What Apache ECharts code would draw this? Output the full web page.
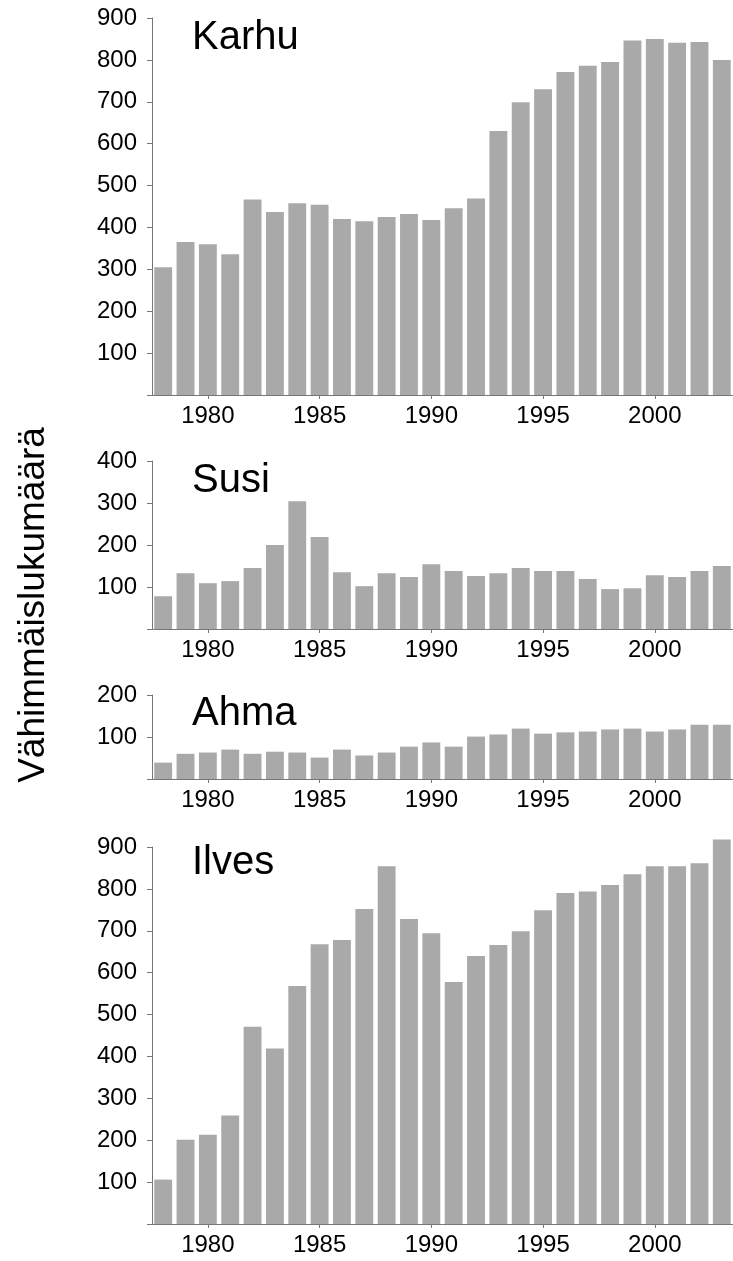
<!DOCTYPE html>
<html>
<head>
<meta charset="utf-8">
<script src="https://cdn.jsdelivr.net/npm/echarts@6/dist/echarts.min.js"></script>
<style>
html,body{margin:0;padding:0;background:#fff;}
#chart{width:733px;height:1261px;}
</style>
</head>
<body>
<div id="chart"></div>
<script>
const years = ['1978','1979','1980','1981','1982','1983','1984','1985','1986','1987','1988','1989','1990','1991','1992','1993','1994','1995','1996','1997','1998','1999','2000','2001','2002','2003'];
const karhu = [305,365,360,336,467,437,458,454,420,415,425,432,418,446,469,630,699,730,771,786,795,846,850,841,843,800];
const susi  = [78,133,109,114,145,200,304,219,135,102,133,124,154,138,126,133,145,138,138,119,95,97,128,124,138,150];
const ahma  = [39,60,63,70,60,65,63,51,70,56,63,77,87,77,101,106,120,108,111,113,118,120,113,118,129,129];
const ilves = [106,201,213,259,471,419,568,668,678,752,854,728,694,578,640,666,699,749,790,794,809,835,854,854,861,918];
const panelNames = ['Karhu','Susi','Ahma','Ilves'];
const panelData = [karhu, susi, ahma, ilves];
const panelMax = [900, 400, 200, 900];
const yTitle = 'Vähimmäislukumäärä';

const FONT = 'Liberation Sans, Arial, Helvetica, sans-serif';
const grids = [
  {top: 18, height: 377},
  {top: 461, height: 168},
  {top: 695, height: 84},
  {top: 847, height: 377}
];
const titleY = [38, 481, 714, 863];

const chart = echarts.init(document.getElementById('chart'), null, {renderer: 'canvas'});
const axisColor = '#777777';

const option = {
  animation: false,
  backgroundColor: '#fff',
  grid: grids.map(g => ({left: 152, right: 0, top: g.top, height: g.height, containLabel: false})),
  xAxis: grids.map((g, i) => ({
    type: 'category',
    gridIndex: i,
    data: years,
    boundaryGap: true,
    axisLine: {show: true, lineStyle: {color: axisColor, width: 1}},
    axisTick: {show: true, alignWithLabel: true, length: 4, interval: (idx, v) => Number(v) % 5 === 0, lineStyle: {color: axisColor}},
    axisLabel: {show: true, interval: (idx, v) => Number(v) % 5 === 0, color: '#000', fontSize: 24, fontFamily: FONT, margin: 9},
    splitLine: {show: false}
  })),
  yAxis: grids.map((g, i) => ({
    type: 'value',
    gridIndex: i,
    min: 0,
    max: panelMax[i],
    interval: 100,
    axisLine: {show: true, lineStyle: {color: axisColor, width: 1}},
    axisTick: {show: true, length: 5, lineStyle: {color: axisColor}},
    axisLabel: {color: '#000', fontSize: 24, fontFamily: FONT, margin: 15, formatter: v => v === 0 ? '' : String(v)},
    splitLine: {show: false}
  })),
  series: panelData.map((d, i) => ({
    type: 'bar',
    xAxisIndex: i,
    yAxisIndex: i,
    data: d,
    clip: false,
    barCategoryGap: '20%',
    itemStyle: {color: '#a9a9a9'}
  })),
  graphic: [
    {
      type: 'text',
      x: 34, y: 605,
      rotation: Math.PI / 2,
      style: {text: yTitle, font: '37px ' + FONT, fill: '#000', align: 'center', verticalAlign: 'middle'}
    }
  ].concat(panelNames.map((n, i) => ({
    type: 'text',
    x: 192, y: titleY[i],
    style: {text: n, font: '40px ' + FONT, fill: '#000', align: 'left', verticalAlign: 'middle'}
  })))
};
chart.setOption(option);
</script>
</body>
</html>
